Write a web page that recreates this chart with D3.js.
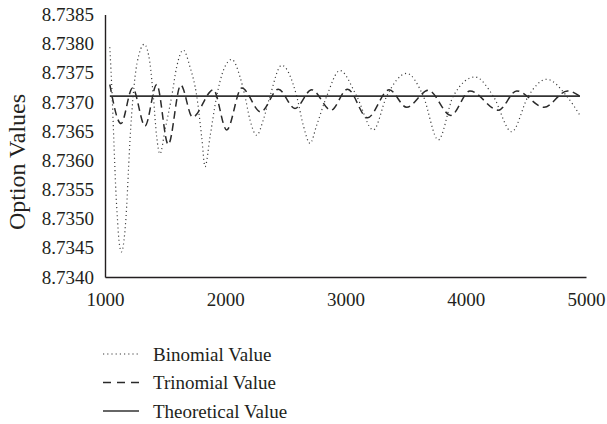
<!DOCTYPE html>
<html>
<head>
<meta charset="utf-8">
<script src="https://cdn.jsdelivr.net/npm/d3@7"></script>
<style>
  html, body { margin: 0; padding: 0; background: #fff; }
  svg { display: block; }
  text { font-family: "Liberation Serif", "DejaVu Serif", serif; fill: #231f20; }
</style>
</head>
<body>
<svg id="chart" width="607" height="424"></svg>
<script>
// Number of time steps N and the option value computed by each method
const binomialN = [1040, 1060, 1075, 1090, 1104, 1116, 1137, 1158, 1180, 1195, 1208, 1233, 1266, 1327,
  1374, 1402, 1430, 1457, 1499, 1555, 1596, 1651, 1707, 1763, 1804, 1832, 1873, 1929, 1984, 2054,
  2123, 2164, 2206, 2262, 2316, 2372, 2469, 2594, 2649, 2705, 2760, 2844, 2954, 3093, 3231, 3343,
  3509, 3647, 3772, 3896, 4077, 4229, 4382, 4520, 4673, 4840, 4950];
const binomialValues = [8.73794, 8.73708, 8.73626, 8.73549, 8.73498, 8.73463, 8.73443, 8.73463, 8.73520,
  8.73583, 8.73635, 8.73708, 8.73766, 8.73799, 8.73766, 8.73709, 8.73640, 8.73611, 8.73652, 8.73710,
  8.73760, 8.73789, 8.73760, 8.73710, 8.73640, 8.73589, 8.73640, 8.73710, 8.73754, 8.73773, 8.73743,
  8.73710, 8.73669, 8.73643, 8.73669, 8.73710, 8.73763, 8.73710, 8.73660, 8.73629, 8.73660, 8.73710,
  8.73754, 8.73710, 8.73652, 8.73710, 8.73749, 8.73710, 8.73635, 8.73710, 8.73743, 8.73710, 8.73649,
  8.73710, 8.73739, 8.73710, 8.73677];

const trinomialN = [1040, 1133, 1229, 1333, 1430, 1526, 1630, 1728, 1901, 2012, 2137, 2296, 2441, 2580,
  2719, 2879, 3017, 3183, 3363, 3509, 3689, 3876, 4035, 4271, 4424, 4651, 4846, 4950];
const trinomialValues = [8.73730, 8.73663, 8.73724, 8.73659, 8.73730, 8.73627, 8.73729, 8.73674, 8.73721,
  8.73652, 8.73724, 8.73683, 8.73722, 8.73689, 8.73721, 8.73686, 8.73722, 8.73673, 8.73721, 8.73691,
  8.73720, 8.73677, 8.73719, 8.73686, 8.73719, 8.73691, 8.73719, 8.73710];

const theoreticalN = [1040, 4950];
const theoreticalValues = [8.7371, 8.7371];

const xTicks = [1000, 2000, 3000, 4000, 5000];
const yTicks = [8.7340, 8.7345, 8.7350, 8.7355, 8.7360, 8.7365, 8.7370, 8.7375, 8.7380, 8.7385];

const seriesNames = ["Binomial Value", "Trinomial Value", "Theoretical Value"];

const svg = d3.select("#chart");
const ink = "#231f20";
const fontSize = 19;

const x = d3.scaleLinear().domain([1000, 5000]).range([105, 586]);
const y = d3.scaleLinear().domain([8.7340, 8.7385]).range([277, 14.5]);

// Axes: plain lines, no tick marks
const yAxis = svg.append("g")
  .attr("transform", `translate(${x(1000)},0)`)
  .call(d3.axisLeft(y).tickValues(yTicks).tickFormat(d3.format(".4f"))
    .tickSize(0).tickPadding(11));
const xAxis = svg.append("g")
  .attr("transform", `translate(0,${y(8.7340)})`)
  .call(d3.axisBottom(x).tickValues(xTicks).tickFormat(d3.format("d"))
    .tickSize(0).tickPadding(16));

[yAxis, xAxis].forEach(g => {
  g.select(".domain").attr("stroke", ink).attr("stroke-width", 1.4);
  g.selectAll("text").attr("font-family", null).attr("font-size", fontSize).attr("fill", ink);
});

// Axis title
svg.append("text")
  .attr("transform", "translate(25,162) rotate(-90)")
  .attr("text-anchor", "middle")
  .attr("font-size", 24)
  .text("Option Values");

const line = d3.line()
  .x(d => x(d[0]))
  .y(d => y(d[1]))
  .curve(d3.curveMonotoneX);

const styles = [
  { dash: "1.1,3", width: 1.2, color: "#3a3a3a" },
  { dash: "7.5,4.5", width: 1.5, color: "#2a2a2a" },
  { dash: null, width: 1.6, color: "#333" }
];

const series = [
  d3.zip(binomialN, binomialValues),
  d3.zip(trinomialN, trinomialValues),
  d3.zip(theoreticalN, theoreticalValues)
];

// Draw theoretical first so the oscillating series sit on top
[2, 1, 0].forEach(i => {
  svg.append("path")
    .datum(series[i])
    .attr("fill", "none")
    .attr("stroke", styles[i].color)
    .attr("stroke-width", styles[i].width)
    .attr("stroke-dasharray", styles[i].dash)
    .attr("d", line);
});

// Legend
const legendY = [354, 382.5, 411];
const legend = svg.append("g");
seriesNames.forEach((name, i) => {
  legend.append("line")
    .attr("x1", 103).attr("x2", 139)
    .attr("y1", legendY[i]).attr("y2", legendY[i])
    .attr("stroke", styles[i].color)
    .attr("stroke-width", styles[i].width)
    .attr("stroke-dasharray", i === 0 ? "1.2,3" : i === 1 ? "8,6" : null);
  legend.append("text")
    .attr("x", 153)
    .attr("y", legendY[i])
    .attr("dy", "0.35em")
    .attr("font-size", fontSize)
    .text(name);
});
</script>
</body>
</html>
